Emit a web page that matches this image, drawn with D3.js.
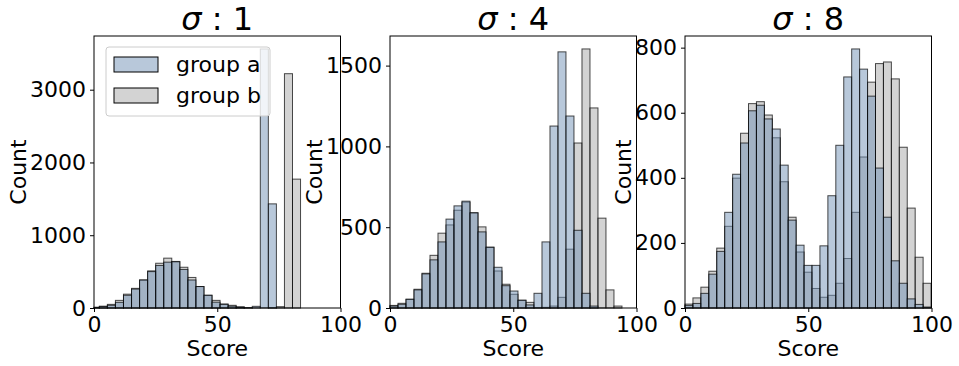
<html lang="en">
<head>
<meta charset="UTF-8">
<title>Score histograms by sigma</title>
<script src="https://d3js.org/d3.v7.min.js"></script>
<style>
    body { margin: 0; background: #fff; font-family: "DejaVu Sans", sans-serif; }
    svg text { fill: #000; }
</style>
</head>
<body>
<svg width="959" height="366"></svg>
<script>
    // per bin (left to right)
    const sigmas = [1, 4, 8];
    const groups = ["group a", "group b"];
    const binStart = [-1.1, 0, 0];
    const binWidth = [3.265, 3.245, 3.22];

    const groupA1 = [8, 20, 37, 78, 175, 260, 385, 500, 585, 630, 635, 530, 385, 295, 175, 80, 50, 25, 14, 2, 23, 3560, 1431, 0, 0, 0];
    const groupB1 = [10, 25, 50, 105, 190, 270, 385, 510, 615, 685, 640, 560, 420, 295, 175, 105, 55, 37, 14, 5, 0, 0, 5, 18, 3220, 1771];

    const groupA4 = [12, 23, 54, 112, 211, 298, 409, 550, 632, 661, 589, 471, 376, 252, 138, 105, 48, 19, 91, 409, 1126, 1585, 1188, 481, 91, 12, 0, 0, 0];
    const groupB4 = [16, 29, 54, 116, 215, 326, 463, 514, 605, 655, 589, 502, 376, 229, 147, 85, 48, 35, 2, 4, 12, 66, 364, 1021, 1603, 1238, 556, 112, 12];

    const groupA8 = [8, 14, 45, 104, 174, 294, 411, 507, 606, 623, 581, 550, 439, 270, 193, 131, 131, 191, 345, 500, 710, 796, 734, 651, 430, 279, 145, 76, 28, 11, 3];
    const groupB8 = [12, 31, 64, 113, 184, 251, 399, 537, 628, 634, 593, 523, 388, 279, 172, 110, 60, 33, 39, 76, 152, 294, 464, 694, 751, 756, 704, 494, 307, 156, 76];

    const scoreTicks = [0, 50, 100];
    const countTicks = [[0, 1000, 2000, 3000], [0, 500, 1000, 1500], [0, 200, 400, 600, 800]];

    const seriesA = [groupA1, groupA4, groupA8];
    const seriesB = [groupB1, groupB4, groupB8];

    const colorA = "rgb(113,145,181)";
    const colorB = "rgb(167,167,167)";
    const alpha = 0.5;

    const panelLeft = [94, 390, 685];
    const panelW = 246.5;
    const plotTop = 36, plotBottom = 308;

    const svg = d3.select("svg");

    sigmas.forEach((s, i) => {
        const g = svg.append("g").attr("transform", `translate(${panelLeft[i]},0)`);

        const x = d3.scaleLinear().domain([0, 100]).range([0, panelW]).clamp(true);
        const maxCount = d3.max(seriesA[i].concat(seriesB[i]));
        const y = d3.scaleLinear().domain([0, maxCount * 1.05]).range([plotBottom, plotTop]);

        const bins = (arr) => arr.map((c, k) => ({
            x0: binStart[i] + k * binWidth[i],
            x1: binStart[i] + (k + 1) * binWidth[i],
            c: c
        })).filter(d => d.c > 0);

        // group b underneath, group a layered on top
        [[seriesB[i], colorB], [seriesA[i], colorA]].forEach(([arr, col]) => {
            g.append("g").selectAll("rect")
                .data(bins(arr))
                .join("rect")
                .attr("x", d => x(d.x0))
                .attr("width", d => x(d.x1) - x(d.x0))
                .attr("y", d => y(d.c))
                .attr("height", d => y(0) - y(d.c))
                .attr("fill", col)
                .attr("fill-opacity", alpha)
                .attr("stroke", "#000")
                .attr("stroke-opacity", 0.7)
                .attr("stroke-width", 1);
        });

        // axes
        const xAxis = g.append("g")
            .attr("transform", `translate(0,${plotBottom})`)
            .call(d3.axisBottom(x).tickValues(scoreTicks).tickSize(4).tickPadding(4));
        const yAxis = g.append("g")
            .call(d3.axisLeft(y).tickValues(countTicks[i]).tickFormat(d3.format("d")).tickSize(4).tickPadding(4));
        [xAxis, yAxis].forEach(a => {
            a.select(".domain").remove();
            a.selectAll("line").attr("stroke", "#000");
            a.selectAll("text").attr("font-family", "DejaVu Sans").attr("font-size", 22).attr("fill", "#000");
        });

        // frame
        g.append("rect")
            .attr("x", 0).attr("y", plotTop)
            .attr("width", panelW).attr("height", plotBottom - plotTop)
            .attr("fill", "none").attr("stroke", "#000").attr("stroke-width", 1);

        // labels
        g.append("text")
            .attr("x", panelW / 2).attr("y", 356)
            .attr("text-anchor", "middle")
            .attr("font-size", 22)
            .text("Score");

        let tickW = 0;
        yAxis.selectAll("text").each(function() { tickW = Math.max(tickW, this.getBBox().width); });
        g.append("text")
            .attr("transform", `translate(${-tickW - 12},${(plotTop + plotBottom) / 2}) rotate(-90)`)
            .attr("text-anchor", "middle")
            .attr("font-size", 22)
            .text("Count");

        const title = g.append("text")
            .attr("x", panelW / 2).attr("y", 30)
            .attr("text-anchor", "middle")
            .attr("font-size", 32);
        title.append("tspan").attr("font-style", "italic").text("σ");
        title.append("tspan").text(" : " + s);

        // legend on the first panel only
        if (i === 0) {
            const lg = g.append("g").attr("transform", "translate(12,47)");
            lg.append("rect")
                .attr("width", 164).attr("height", 69).attr("rx", 3)
                .attr("fill", "#fff").attr("fill-opacity", 0.8)
                .attr("stroke", "#ccc");
            groups.forEach((name, j) => {
                lg.append("rect")
                    .attr("x", 8).attr("y", 10 + j * 31)
                    .attr("width", 44).attr("height", 15)
                    .attr("fill", j === 0 ? colorA : colorB)
                    .attr("fill-opacity", alpha)
                    .attr("stroke", "#000");
                lg.append("text")
                    .attr("x", 70).attr("y", 25 + j * 31)
                    .attr("font-size", 22)
                    .text(name);
            });
        }
    });
</script>
</body>
</html>
